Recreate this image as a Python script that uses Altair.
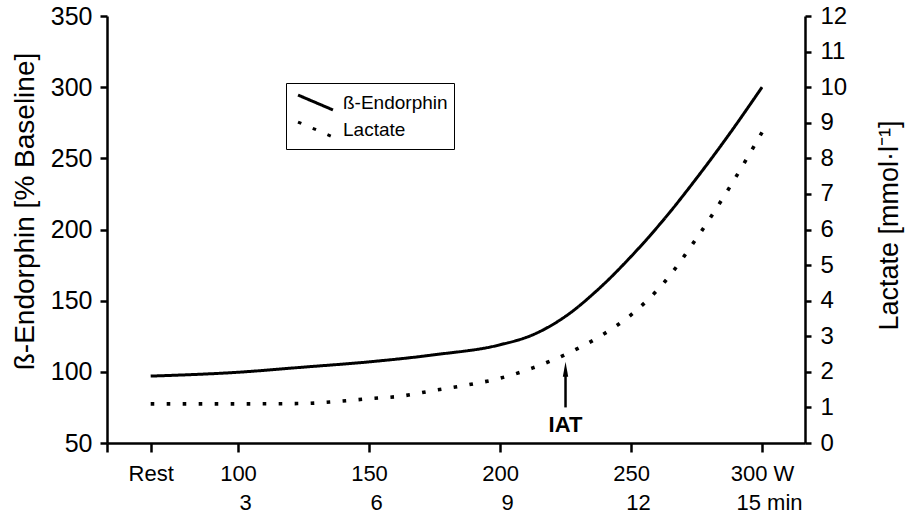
import altair as alt
import pandas as pd

# ---- data ----
watts_endo = [66.67, 100, 125, 150, 175, 200, 212.5, 225, 237.5, 250, 262.5, 275, 287.5, 300]
endorphin = [97, 99.7, 103.3, 107, 112, 119, 126, 139, 158, 181, 207, 236, 267, 300]

watts_lac = [66.67, 100, 125, 137.5, 150, 162.5, 175, 187.5, 200, 212.5, 225,
             237.5, 250, 262.5, 275, 287.5, 300]
lactate = [1.10, 1.10, 1.11, 1.165, 1.245, 1.32, 1.48, 1.63, 1.82, 2.11, 2.49,
           2.97, 3.6, 4.5, 5.75, 7.17, 8.73]

series_names = ["ß-Endorphin", "Lactate"]

x_ticks = [50, 66.67, 100, 150, 200, 250, 300]
watt_labels = ["", "Rest", "100", "150", "200", "250", "300 W"]
minute_ticks = [100, 150, 200, 250, 300]
minute_labels = ["3", "6", "9", "12", "15 min"]
endo_ticks = [50, 100, 150, 200, 250, 300, 350]
lac_ticks = [0, 1, 2, 3, 4, 5, 6, 7, 8, 9, 10, 11, 12]

iat_watt = [225]
iat_from = [1.0]
iat_to = [2.0]
iat_head = [2.07]
iat_text_at = [0.5]
iat_text = ["IAT"]

FONT = "Liberation Sans"


def label_expr(ticks, labels):
    expr = "''"
    for t, lab in reversed(list(zip(ticks, labels))):
        expr = f"round(datum.value*100) == {round(t * 100)} ? '{lab}' : ({expr})"
    return expr


endo_df = pd.DataFrame({"W": watts_endo, "value": endorphin, "series": series_names[0]})
lac_df = pd.DataFrame({"W": watts_lac, "value": lactate, "series": series_names[1]})
iat_df = pd.DataFrame({"W": iat_watt, "y0": iat_from, "y1": iat_to,
                       "head": iat_head, "txt_y": iat_text_at, "txt": iat_text})

x_scale = alt.Scale(domain=[50, 316.4], nice=False, zero=False)

watt_axis = alt.Axis(values=x_ticks, labelExpr=label_expr(x_ticks, watt_labels),
                     title=None, tickSize=9, tickWidth=2.5, domainWidth=2.5,
                     labelFontSize=22, labelPadding=11, labelFont=FONT,
                     labelColor="black", tickColor="black", domainColor="black",
                     grid=False, orient="bottom")
minute_axis = alt.Axis(values=minute_ticks, labelExpr=label_expr(minute_ticks, minute_labels),
                       title=None, ticks=False, tickSize=0, domain=False,
                       labelFontSize=22, labelPadding=49, labelOffset=7, labelFont=FONT,
                       labelColor="black", grid=False, orient="bottom")

left_axis = alt.Axis(values=endo_ticks, orient="left", title="ß-Endorphin [% Baseline]",
                     tickSize=7, tickWidth=2.5, domainWidth=2.5, labelFontSize=25,
                     labelPadding=8, labelFont=FONT, labelColor="black",
                     tickColor="black", domainColor="black", grid=False,
                     titleFont=FONT, titleFontSize=28, titleFontWeight="normal",
                     titleColor="black", titleAngle=270, titleBaseline="alphabetic",
                     titleAlign="center", titleX=-74, titleY=195)
right_axis = alt.Axis(values=lac_ticks, orient="right", title="Lactate [mmol·l⁻¹]",
                      tickSize=6, tickWidth=2.5, domainWidth=2.5, labelFontSize=24,
                      labelPadding=9, labelFont=FONT, labelColor="black",
                      tickColor="black", domainColor="black", grid=False,
                      titleFont=FONT, titleFontSize=27, titleFontWeight="normal",
                      titleColor="black", titleAngle=270, titleBaseline="alphabetic",
                      titleAlign="center", titleX=92, titleY=209)

legend = alt.Legend(orient="none", legendX=179, legendY=67, title=None,
                    strokeColor="black", fillColor="white", padding=6,
                    symbolType="M-1.5,-0.64L1.5,0.64", symbolSize=544,
                    symbolStrokeWidth=3, symbolStrokeColor="black",
                    symbolOffset=10, labelOffset=14, rowPadding=0,
                    labelFont=FONT, labelFontSize=19, labelColor="black")

dash = alt.StrokeDash("series:N",
                      scale=alt.Scale(domain=series_names, range=[[1, 0], [3.6, 12.4]]),
                      legend=legend)

endo_line = alt.Chart(endo_df).mark_line(color="black", strokeWidth=3,
                                         interpolate="monotone").encode(
    x=alt.X("W:Q", scale=x_scale, axis=watt_axis),
    y=alt.Y("value:Q", scale=alt.Scale(domain=[50, 350], nice=False, zero=False),
            axis=left_axis),
    strokeDash=dash,
)

lac_y_scale = alt.Scale(domain=[0, 12], nice=False, zero=False)

lac_line = alt.Chart(lac_df).mark_line(color="black", strokeWidth=3.6,
                                       interpolate="monotone").encode(
    x=alt.X("W:Q", scale=x_scale, axis=minute_axis),
    y=alt.Y("value:Q", scale=lac_y_scale, axis=right_axis),
    strokeDash=dash,
)

arrow_shaft = alt.Chart(iat_df).mark_rule(color="black", strokeWidth=2.5).encode(
    x=alt.X("W:Q", scale=x_scale, axis=minute_axis),
    y=alt.Y("y0:Q", scale=lac_y_scale, axis=right_axis),
    y2="y1:Q",
)

arrow_head = alt.Chart(iat_df).mark_point(shape="M0,-1L0.36,1L-0.36,1Z", size=225,
                                          filled=True, color="black", opacity=1).encode(
    x=alt.X("W:Q", scale=x_scale, axis=minute_axis),
    y=alt.Y("head:Q", scale=lac_y_scale, axis=right_axis),
)

iat_label = alt.Chart(iat_df).mark_text(font=FONT, fontSize=22, fontWeight="bold",
                                        color="black", align="center",
                                        baseline="middle").encode(
    x=alt.X("W:Q", scale=x_scale, axis=minute_axis),
    y=alt.Y("txt_y:Q", scale=lac_y_scale, axis=right_axis),
    text="txt:N",
)

lac_group = alt.layer(lac_line, arrow_shaft, arrow_head, iat_label)

chart = alt.layer(endo_line, lac_group).resolve_scale(
    y="independent"
).resolve_axis(
    x="independent", y="independent"
).properties(
    width=698, height=427,
    autosize=alt.AutoSizeParams(type="none"),
    padding={"left": 107, "top": 16, "right": 102, "bottom": 71},
    background="white",
).configure_view(stroke=None)

chart.save("out.html", embed_options={"renderer": "svg", "actions": False})
